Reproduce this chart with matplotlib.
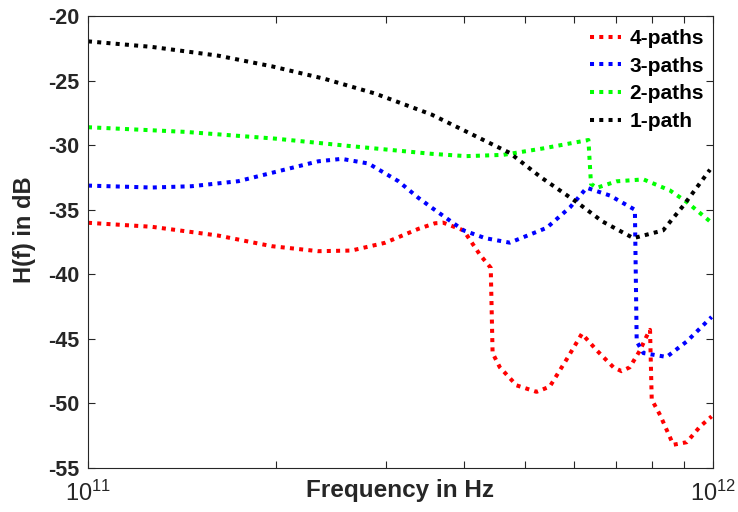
import matplotlib.pyplot as plt
from matplotlib.ticker import FixedLocator, NullFormatter

plt.rcParams['font.family'] = ['Liberation Sans', 'DejaVu Sans']
plt.rcParams['mathtext.default'] = 'regular'
plt.rcParams['axes.unicode_minus'] = False

# frequencies in units of 1e11 Hz, values in dB
f_4 = [1.0, 1.265, 1.616, 1.967, 2.336, 2.64, 2.987, 3.378, 3.59, 3.70, 3.99, 4.24,
       4.41, 4.44, 4.56, 4.85, 5.22, 5.48, 5.83, 6.17, 6.52, 6.93, 7.14, 7.36, 7.64,
       7.83, 7.93, 7.98, 8.23, 8.64, 9.08, 9.53, 9.95]
h_4 = [-36.01, -36.32, -37.0, -37.82, -38.21, -38.16, -37.56, -36.48, -36.05, -36.0,
       -36.6, -38.5, -39.5, -46.1, -47.2, -48.6, -49.1, -48.7, -46.6, -44.6, -45.9,
       -47.2, -47.5, -47.2, -45.9, -44.8, -44.3, -49.7, -50.9, -53.2, -53.0, -51.8,
       -51.0]

f_3 = [1.0, 1.265, 1.465, 1.74, 2.066, 2.336, 2.546, 2.81, 3.138, 3.378, 3.569, 3.99,
       4.32, 4.73, 5.42, 5.91, 6.28, 6.84, 7.5, 7.55, 7.74, 8.43, 9.08, 9.95]
h_3 = [-33.13, -33.28, -33.18, -32.79, -31.89, -31.25, -31.06, -31.42, -32.79, -34.08,
       -34.93, -36.6, -37.2, -37.55, -36.4, -34.8, -33.3, -33.9, -35.0, -45.2, -46.1,
       -46.4, -45.2, -43.3]

f_2 = [1.0, 1.43, 1.99, 2.64, 3.546, 4.03, 4.62, 5.35, 6.32, 6.38, 6.52, 7.01, 7.74,
       8.53, 9.08, 9.89]
h_2 = [-28.61, -28.97, -29.49, -30.08, -30.67, -30.85, -30.75, -30.25, -29.6, -33.0,
       -33.3, -32.8, -32.65, -33.5, -34.4, -35.9]

f_1 = [1.0, 1.265, 1.616, 1.967, 2.394, 2.879, 3.546, 4.17, 4.73, 5.31, 6.05, 6.65,
       7.46, 8.32, 8.96, 9.89]
h_1 = [-21.96, -22.39, -23.07, -23.89, -24.87, -26.0, -27.63, -29.3, -30.6, -32.5,
       -34.4, -35.9, -37.2, -36.6, -34.7, -31.9]

series = [(f_4, h_4, 'red', '4-paths'),
          (f_3, h_3, 'blue', '3-paths'),
          (f_2, h_2, '#00ff00', '2-paths'),
          (f_1, h_1, 'black', '1-path')]

fig = plt.figure(figsize=(7.38, 5.12), dpi=100)
ax = fig.add_axes([0.1192, 0.0859, 0.8469, 0.8828])

for f, h, c, lab in series:
    ax.plot([v * 1e11 for v in f], h, color=c, lw=2.9, ls=(0, (1, 1.3)), label=lab)

ax.set_xscale('log')
ax.set_xlim(1e11, 1e12)
ax.set_ylim(-55, -20)
ax.set_yticks(range(-55, -19, 5))
ax.set_xticks([1e11, 1e12])
ax.set_xticklabels([r'$10^{11}$', r'$10^{12}$'], fontsize=17)
ax.xaxis.set_minor_locator(FixedLocator([k * 1e11 for k in range(2, 10)]))
ax.xaxis.set_minor_formatter(NullFormatter())

for lbl in ax.get_yticklabels():
    lbl.set_fontweight('bold')
    lbl.set_fontsize(15.5)

ax.tick_params(which='both', direction='in', top=True, right=True, colors='#262626',
               width=0.8, length=5)
ax.tick_params(axis='x', pad=9)
ax.tick_params(axis='y', pad=6)
for s in ax.spines.values():
    s.set_color('#262626')

ax.set_xlabel('Frequency in Hz', fontsize=17.5, fontweight='bold', color='#262626')
ax.set_ylabel('H(f) in dB', fontsize=17, fontweight='bold', color='#262626')
ax.xaxis.set_label_coords(0.5, -0.025)
ax.yaxis.set_label_coords(-0.083, 0.527)

ax.legend(loc='upper right', bbox_to_anchor=(1.016, 1.013), frameon=False,
          handlelength=1.5, handletextpad=0.4, labelspacing=0.42,
          prop={'weight': 'bold', 'size': 15})

fig.savefig('out.png', dpi=100)
